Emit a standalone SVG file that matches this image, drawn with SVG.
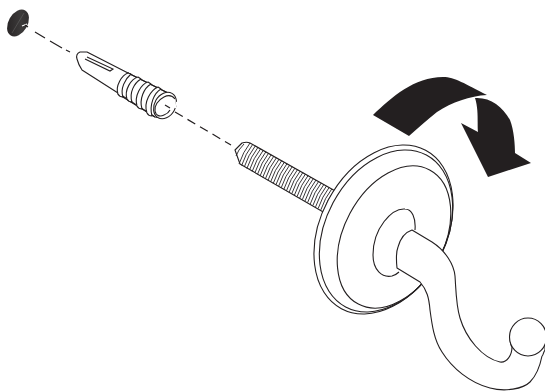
<svg xmlns="http://www.w3.org/2000/svg" width="545" height="391" viewBox="0 0 545 391">
<style>
.l{fill:#fff;stroke:#231f20;stroke-width:1.1;stroke-linejoin:round}
.n{fill:none;stroke:#231f20;stroke-width:1.1}
.t{fill:none;stroke:#231f20;stroke-width:.9}
.d{fill:none;stroke:#231f20;stroke-width:1.2}
.b{fill:#231f20;stroke:none}
</style>
<defs>
<linearGradient id="capfill" x1="0" y1="1" x2="1" y2="0"><stop offset="0" stop-color="#231f20"/><stop offset=".6" stop-color="#3c3a3a"/><stop offset="1" stop-color="#2a2829"/></linearGradient>
</defs>
<rect width="545" height="391" fill="#fff"/>
<g id="cap">
<ellipse fill="url(#capfill)" cx="18" cy="23" rx="9.500" ry="14.500" transform="rotate(30 18 23)"/>
<path d="M22 26L27 24" stroke="#fff" stroke-width="1.300" fill="none"/>
<path d="M12 33L24 13" stroke="#777" stroke-width=".4" fill="none"/>
</g>
<g id="anchor">
<path class="l" d="M80 52C77 53 76 56 77 59C78 63 80 67 82 70L118 93L128 73L87 52Z"/>
<path class="n" d="M87 57L113 69L110 71L85 59"/>
<path class="l" d="M128 73L168 93L160 118L155 117L118 94Z" stroke="none"/>
<path class="n" d="M128 73L168 93M118 93L155 117"/>
<path class="l" d="M128 73C122 75 115 86 118 94C119 96 121 97 123 97C120 89 125 79 131 74Z"/>
<path class="l" d="M138 77C131 79 124 90 127 99C128 101 130 102 132 102C129 93 134 83 141 79Z"/>
<path class="l" d="M148 82C141 84 134 96 137 106C138 108 140 109 142 109C139 99 144 88 151 84Z"/>
<path class="l" d="M158 87C151 90 143 102 147 113C148 115 150 116 152 116C149 105 154 93 161 89Z"/>
<ellipse class="l" cx="165" cy="105.500" rx="10.500" ry="14" transform="rotate(30 165 105.500)"/>
<path class="n" d="M175 99C172 95 168 95 164 97C158 100 154 106 155 111C156 116 160 117 164 115C167 114 169 112 170 110"/>
<path d="M177 102L175 108" stroke="#fff" stroke-width="2" fill="none"/>
</g>
<g id="connectors">
<path class="d" d="M25 25L28 27M35 32L45 38M50 41L62 48M66 50L70 52"/>
<path class="d" stroke-dasharray="9 5.500" d="M175 112L231 145"/>
<path class="d" d="M165 105L170 108"/>
</g>
<g id="bolt">
<path class="l" d="M242 143C245 142 248 142 250 143L337 192L325 213L240 164L235 150Z"/>
<path class="t" d="M244 144q-6 6-8 12m14-13q-7 9-11 21m13.640-19.520q-7 9-11 21m13.640-19.520q-7 9-11 21m13.640-19.520q-7 9-11 21m13.640-19.520q-7 9-11 21m13.640-19.520q-7 9-11 21m13.640-19.520q-7 9-11 21m13.640-19.520q-7 9-11 21m13.640-19.520q-7 9-11 21m13.640-19.520q-7 9-11 21m13.640-19.520q-7 9-11 21m13.640-19.520q-7 9-11 21m13.640-19.520q-7 9-11 21m13.640-19.520q-7 9-11 21m13.640-19.520q-7 9-11 21m13.640-19.520q-7 9-11 21m13.640-19.520q-7 9-11 21m13.640-19.520q-7 9-11 21m13.640-19.520q-7 9-11 21m13.640-19.520q-7 9-11 21m13.640-19.520q-7 9-11 21m13.640-19.520q-7 9-11 21m13.640-19.520q-7 9-11 21m13.640-19.520q-7 9-11 21m13.640-19.520q-7 9-11 21m13.640-19.520q-7 9-11 21m13.640-19.520q-7 9-11 21m13.640-19.520q-7 9-11 21m13.640-19.520q-7 9-11 21m13.640-19.520q-7 9-11 21m13.640-19.520q-7 9-11 21m13.640-19.520q-7 9-11 21m13.640-19.520q-7 9-11 21"/>
</g>
<g id="plate">
<ellipse class="l" cx="383.500" cy="229.500" rx="62.600" ry="89.700" transform="rotate(28 383.500 229.500)"/>
<ellipse class="n" cx="386" cy="231" rx="60" ry="86" transform="rotate(28 386 231)"/>
<ellipse class="n" cx="394" cy="237" rx="50" ry="76" transform="rotate(28 394 237)"/>
<path class="n" d="M415 230C416 218 412 209 405 209C392 208 373 228 373 255C373 270 382 278 392 276C395 275 397 274 399 272"/>
</g>
<g id="hook">
<path class="l" d="M412 230L432 242C446 251 454 265 455 276C456 290 456 305 460 318C466 338 482 358 500 362C507 363 512 355 512 347C510 345 510 340 510 335L545 337L545 350C543 353 543 356 542 356C540 366 537 375 530 382C523 389 505 392 490 388C470 383 452 368 442 352C434 340 432 325 430 310C429 298 427 290 420 282L397 268C396 258 396 252 398 247C401 236 406 232 412 230Z"/>
<ellipse class="l" cx="528" cy="337" rx="18.500" ry="19"/>
</g>
<g id="arrow">
<path class="b" d="M373 115C392 97 414 77 443 77C455 77 465 84 487 95C470 96 452 102 437 112C427 120 418 128 409 136Z"/>
<path class="b" d="M475 98C490 97 502 106 510 120C514 130 515 145 515 153L531 163L488 177L461 123L478 132C477 125 479 110 475 98Z"/>
</g>
</svg>
